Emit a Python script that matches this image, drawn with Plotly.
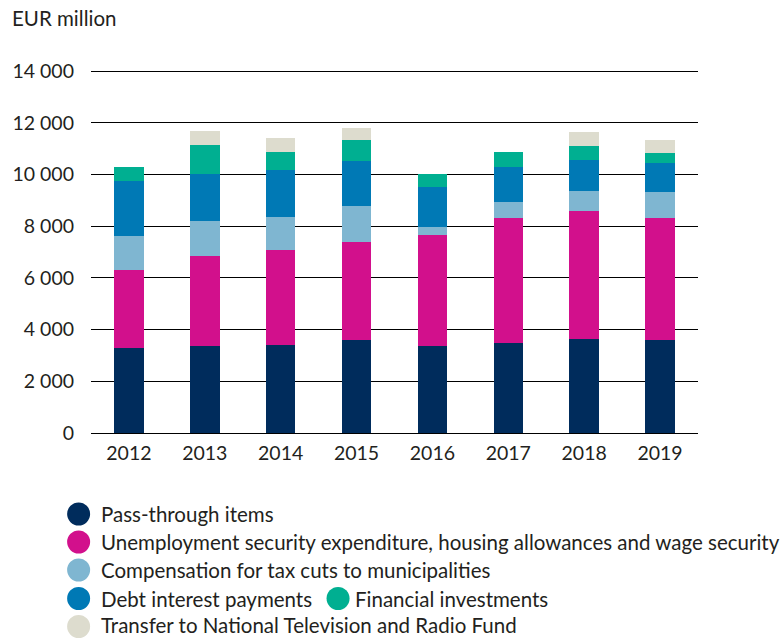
import plotly.graph_objects as go

# Central government expenditure categories, EUR million
years = ["2012", "2013", "2014", "2015", "2016", "2017", "2018", "2019"]

pass_through = [3300, 3350, 3420, 3600, 3350, 3470, 3650, 3600]
unemployment = [3000, 3500, 3660, 3780, 4300, 4830, 4940, 4710]
tax_cut_comp = [1320, 1340, 1290, 1400, 310, 640, 770, 1000]
debt_interest = [2140, 1840, 1790, 1730, 1560, 1330, 1210, 1150]
fin_invest = [530, 1110, 710, 840, 480, 590, 530, 350]
yle_transfer = [0, 530, 530, 460, 0, 0, 530, 530]

series_names = [
    "Pass-through items",
    "Unemployment security expenditure, housing allowances and wage security",
    "Compensation for tax cuts to municipalities",
    "Debt interest payments",
    "Financial investments",
    "Transfer to National Television and Radio Fund",
]
series_values = [pass_through, unemployment, tax_cut_comp,
                 debt_interest, fin_invest, yle_transfer]
colors = ["#002C5C", "#D2108C", "#7FB6D1", "#0079B5", "#00AF91", "#DDDCCE"]

y_ticks = [0, 2000, 4000, 6000, 8000, 10000, 12000, 14000]
y_tick_text = ["0", "2 000", "4 000", "6 000", "8 000", "10 000", "12 000", "14 000"]

FONT = "Lato"
FS_TEXT = 20.5
FS_TICK = 19.5
TEXT = "#231F20"
W, H = 783, 638

# Plot area: y=0 sits at pixel row 433, 14 000 at row 71; headroom above the top gridline
Y_MAX = 14150
B = H - 433
px_per_unit = (433 - 71) / 14000
T = round(433 - Y_MAX * px_per_unit)
Y_MAX = (433 - T) / px_per_unit
L, R = 85, 85
PW, PH = W - L - R, H - T - B

fig = go.Figure()
for name, vals, col in zip(series_names, series_values, colors):
    fig.add_trace(go.Bar(x=years, y=vals, name=name, marker_color=col,
                         marker_line_width=0, showlegend=False))


def px_x(x):
    return (x - L) / PW


def px_y(y):
    return (H - B - y) / PH


# Legend drawn as circles plus labels:
# (series index, circle centre x, circle centre y, text offset, text centre y)
legend_rows = [
    (0, 72.5, 514, 22, 514),
    (1, 72.5, 542, 22, 542),
    (2, 72.5, 570, 22, 570),
    (3, 72.5, 598.5, 22, 598.5),
    (4, 334.5, 598.5, 16, 598.5),
    (5, 72.5, 626.5, 22, 624.5),
]
shapes = []
annotations = []
for idx, cx, cy, off, ty in legend_rows:
    shapes.append(dict(type="circle", xref="paper", yref="paper",
                       xsizemode="pixel", ysizemode="pixel",
                       xanchor=px_x(cx), yanchor=px_y(cy),
                       x0=-11.5, x1=11.5, y0=-11.5, y1=11.5,
                       fillcolor=colors[idx], line_width=0))
    annotations.append(dict(text=series_names[idx], xref="paper", yref="paper",
                            x=px_x(cx + off), y=px_y(ty), xanchor="left",
                            yanchor="middle", showarrow=False, borderpad=0,
                            font=dict(family=FONT, size=FS_TEXT, color=TEXT)))

annotations.append(dict(text="EUR million", xref="paper", yref="paper",
                        x=px_x(4), y=px_y(18), xanchor="left", yanchor="middle",
                        showarrow=False, borderpad=0,
                        font=dict(family=FONT, size=FS_TEXT, color=TEXT)))

fig.update_layout(
    barmode="stack",
    bargap=0.61,
    width=W, height=H,
    margin=dict(l=L, r=R, t=T, b=B, pad=0),
    paper_bgcolor="white",
    plot_bgcolor="white",
    font=dict(family=FONT, size=FS_TICK, color=TEXT),
    shapes=shapes,
    annotations=annotations,
    showlegend=False,
)
fig.update_xaxes(showgrid=False, showline=False, ticks="",
                 ticklabelstandoff=6, tickfont=dict(size=FS_TICK, color=TEXT))
fig.update_yaxes(range=[0, Y_MAX], tickvals=y_ticks, ticktext=y_tick_text,
                 showgrid=True, gridcolor="#000000", gridwidth=1.3,
                 zeroline=True, zerolinecolor="#000000", zerolinewidth=1.3,
                 showline=False, ticks="", ticklabelstandoff=16,
                 tickfont=dict(size=FS_TICK, color=TEXT))

fig.write_html("out.html")
